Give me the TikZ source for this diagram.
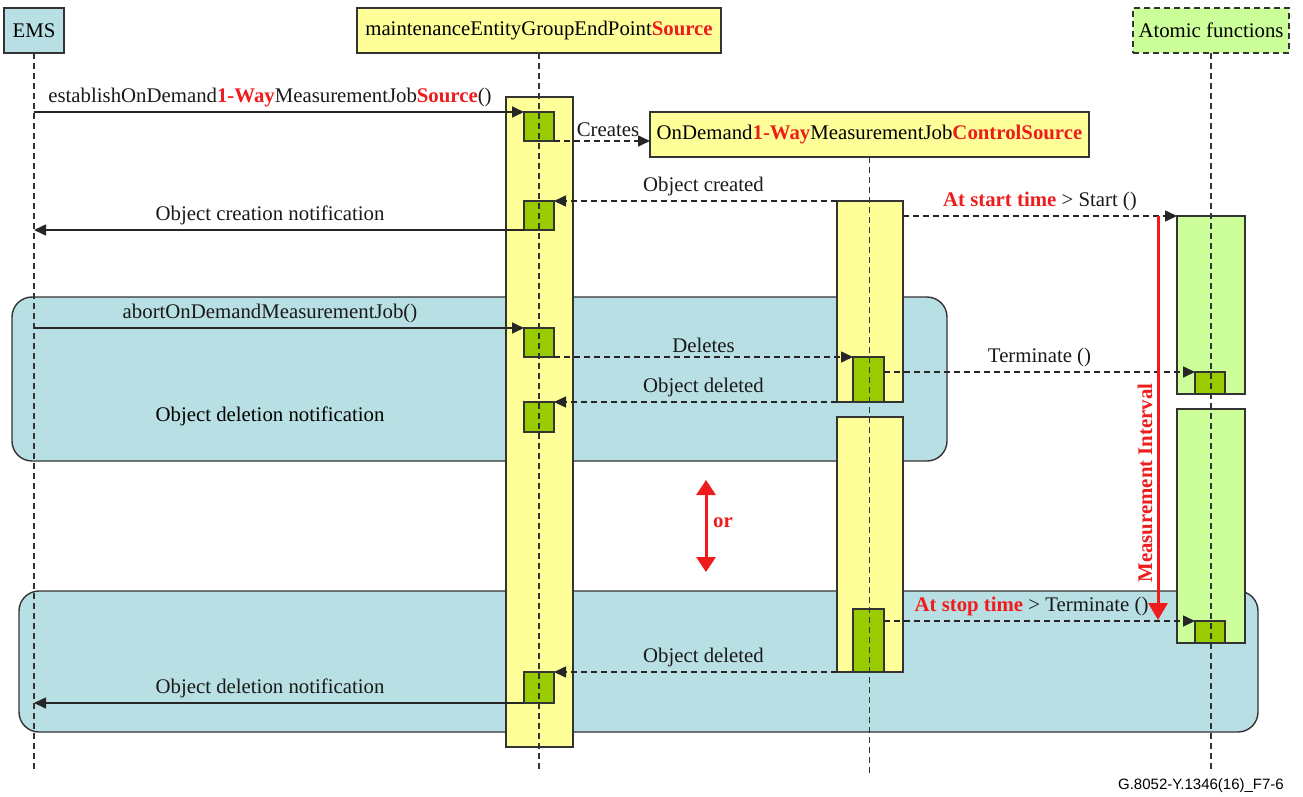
\documentclass[tikz,border=0pt]{standalone}
\usepackage{fontspec}
\setmainfont{Liberation Serif}
\newfontfamily\footfont{Liberation Sans}
\usetikzlibrary{arrows.meta,fit}
\definecolor{bord}{HTML}{333333}
\definecolor{bluebg}{HTML}{B8DFE3}
\definecolor{ylw}{HTML}{FFFF99}
\definecolor{grn}{HTML}{99CC00}
\definecolor{lgrn}{HTML}{CCFF99}
\definecolor{rd}{HTML}{EE1C1C}
\newcommand{\rbf}[1]{\textcolor{rd}{\textbf{#1}}}
\begin{document}
\begin{tikzpicture}[x=1pt,y=-1pt,
  font=\fontsize{20.8}{24}\selectfont,
  rect/.style={draw=bord, line width=1.4pt, inner sep=0pt, outer sep=0pt},
  hdr/.style={rect, fill=#1, anchor=center},
  bluebox/.style={rect, fill=bluebg, rounded corners=20pt},
  ybar/.style={rect, fill=ylw},
  gbar/.style={rect, fill=lgrn},
  sq/.style={rect, fill=grn},
  life/.style={draw=bord, line width=1.3pt, dash pattern=on 6pt off 4pt},
  msg/.style={draw=black!85, line width=1.6pt, -{Triangle[length=12pt,width=11pt]}},
  dmsg/.style={msg, dash pattern=on 6pt off 4pt},
  lbl/.style={above=2pt, inner sep=2pt, text=black!90},
  redarr/.style={draw=rd, line width=3pt},
]
\useasboundingbox (0,0) rectangle (1303,796);

% interaction frames
\node[bluebox, fit={(12,297) (947,461)}] (frame1) {};
\node[bluebox, fit={(19,591) (1258,732)}] (frame2) {};

% headers
\node[hdr=bluebg, minimum width=60pt, minimum height=45pt] (ems) at (34,30.5) {EMS};
\node[hdr=ylw, minimum width=364pt, minimum height=45pt] (meg) at (539,30.5) {maintenanceEntityGroupEndPoint\rbf{Source}};
\node[hdr=ylw, minimum width=439pt, minimum height=45pt] (ond) at (869.5,134.5) {OnDemand\rbf{1-Way}MeasurementJob\rbf{ControlSource}};
\node[hdr=lgrn, dash pattern=on 6pt off 4pt, minimum width=156pt, minimum height=45pt] (atf) at (1211,30.5) {Atomic functions};

% activation bars
\node[ybar, fit={(506,97) (573,747)}] (bar1) {};
\node[ybar, fit={(837,201) (903,402)}] (bar2a) {};
\node[ybar, fit={(837,417) (903,672)}] (bar2b) {};
\node[gbar, fit={(1177,216) (1245,394)}] (atoma) {};
\node[gbar, fit={(1177,409) (1245,643)}] (atomb) {};

% execution squares
\node[sq, fit={(524,112) (554,141)}] (sq1) {};
\node[sq, fit={(524,201) (554,230)}] (sq2) {};
\node[sq, fit={(524,328) (554,357)}] (sq3) {};
\node[sq, fit={(853,357) (884,402)}] (sq4) {};
\node[sq, fit={(1195,372) (1225,394)}] (sq5) {};
\node[sq, fit={(524,402) (554,432)}] (sq6) {};
\node[sq, fit={(853,609) (884,672)}] (sq7) {};
\node[sq, fit={(1195,621) (1225,643)}] (sq8) {};
\node[sq, fit={(524,672) (554,703)}] (sq9) {};

% lifelines
\coordinate (lifeend) at (0,773);
\coordinate (lifeend2) at (0,776);
\draw[life] (ems.south) -- (ems.south |- lifeend);
\draw[life] (meg.south) -- (meg.south |- lifeend);
\draw[life] (ond.south) -- (ond.south |- lifeend2);
\draw[life] (atf.south) -- (atf.south |- lifeend);

% messages
\draw[msg] (ems.south |- sq1.north west) -- node[lbl, xshift=-9pt]
  {establishOnDemand\rbf{1-Way}MeasurementJob\rbf{Source}()} (sq1.north west);
\draw[dmsg] (sq1.south east) -- node[lbl, xshift=6pt] {Creates} (sq1.south east -| ond.west);
\draw[dmsg] (bar2a.north west) -- node[lbl, xshift=8pt] {Object created} (sq2.north east);
\draw[msg] (sq2.south west) -- node[lbl, xshift=-9pt] {Object creation notification} (ems.south |- sq2.south west);
\draw[dmsg] (atoma.north west -| bar2a.east) -- node[lbl] {\rbf{At start time} > Start ()} (atoma.north west);

\draw[msg] (ems.south |- sq3.north west) -- node[lbl, xshift=-9pt] {abortOnDemandMeasurementJob()} (sq3.north west);
\draw[dmsg] (sq3.south east) -- node[lbl] {Deletes} (sq4.north west);
\draw[dmsg] (sq5.north west -| sq4.east) -- node[lbl] {Terminate ()} (sq5.north west);
\draw[dmsg] (bar2a.south west) -- node[lbl, xshift=8pt] {Object deleted} (sq6.north east);
\node (delnote1) at (270,416) {Object deletion notification};

\draw[dmsg] (sq8.north west -| sq7.east) -- node[lbl, xshift=-8pt] {\rbf{At stop time} > Terminate ()} (sq8.north west);
\draw[dmsg] (bar2b.south west) -- node[lbl, xshift=8pt] {Object deleted} (sq9.north east);
\draw[msg] (sq9.south west) -- node[lbl, xshift=-9pt] {Object deletion notification} (ems.south |- sq9.south west);

% measurement interval
\coordinate (mtop) at (1158,216);
\coordinate (mbot) at (1158,620);
\draw[redarr, -{Triangle[length=17pt,width=19pt]}] (mtop) -- (mbot);
\node[rotate=90, text=rd, font=\fontsize{20.8}{24}\selectfont\bfseries] (mlabel) at (1145,483) {Measurement Interval};

% or
\coordinate (ortop) at (706,480);
\coordinate (orbot) at (706,572);
\draw[redarr, {Triangle[length=15pt,width=19pt]}-{Triangle[length=15pt,width=19pt]}] (ortop) -- (orbot);
\node[text=rd, font=\fontsize{20.8}{24}\selectfont\bfseries] (orlabel) at (723,523) {or};

% footer
\node[anchor=east, inner sep=0pt, font=\footfont\fontsize{15}{17}\selectfont] (foot) at (1284,786) {G.8052-Y.1346(16)\_F7-6};
\end{tikzpicture}
\end{document}
